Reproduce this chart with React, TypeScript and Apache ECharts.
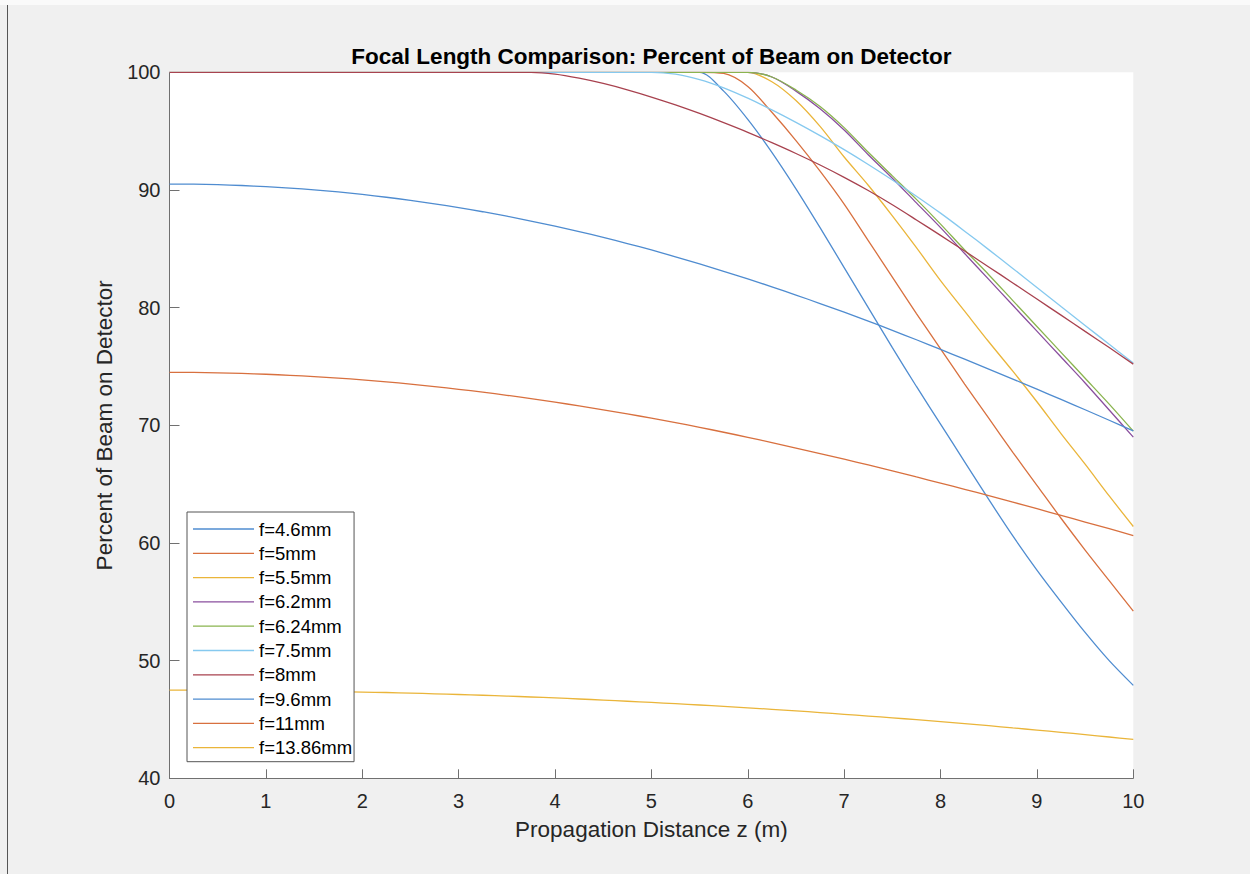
import React, { useEffect, useRef } from "react";
import * as echarts from "echarts";

// Propagation distance z (m), shared sample positions
const Z = [
  0, 0.25, 0.5, 0.75, 1, 1.25, 1.5, 1.75, 2, 2.25, 2.5, 2.75, 3, 3.25, 3.5, 3.75,
  4, 4.25, 4.5, 4.75, 5, 5.25, 5.5, 5.75, 6, 6.25, 6.5, 6.75, 7, 7.25, 7.5, 7.75,
  8, 8.25, 8.5, 8.75, 9, 9.25, 9.5, 9.75, 10,
];

const F46 = [
  100, 100, 100, 100, 100, 100, 100, 100, 100, 100, 100, 100, 100, 100, 100, 100,
  100, 100, 100, 100, 100, 100, 100, 98.4, 96.0, 93.2, 90.1, 86.8, 83.4, 80.0, 76.6, 73.3,
  70.1, 66.9, 63.7, 60.6, 57.7, 55.0, 52.4, 50.0, 47.9,
];
const F5 = [
  100, 100, 100, 100, 100, 100, 100, 100, 100, 100, 100, 100, 100, 100, 100, 100,
  100, 100, 100, 100, 100, 100, 100, 99.9, 98.8, 96.6, 94.2, 91.6, 88.8, 85.7, 82.6, 79.5,
  76.5, 73.5, 70.6, 67.7, 64.9, 62.1, 59.4, 56.8, 54.2,
];
const F55 = [
  100, 100, 100, 100, 100, 100, 100, 100, 100, 100, 100, 100, 100, 100, 100, 100,
  100, 100, 100, 100, 100, 100, 100, 100, 100, 99.2, 97.6, 95.4, 92.8, 90.4, 87.8, 85.1,
  82.3, 79.7, 77.1, 74.6, 72.0, 69.3, 66.7, 64.0, 61.4,
];
const F62 = [
  100, 100, 100, 100, 100, 100, 100, 100, 100, 100, 100, 100, 100, 100, 100, 100,
  100, 100, 100, 100, 100, 100, 100, 100, 100, 99.6, 98.4, 96.9, 95.1, 93.0, 91.0, 88.9,
  86.8, 84.6, 82.4, 80.2, 78.0, 75.8, 73.6, 71.3, 69.0,
];
const F624 = [
  100, 100, 100, 100, 100, 100, 100, 100, 100, 100, 100, 100, 100, 100, 100, 100,
  100, 100, 100, 100, 100, 100, 100, 100, 100, 99.6, 98.5, 97.1, 95.3, 93.2, 91.2, 89.2,
  87.1, 84.9, 82.8, 80.6, 78.4, 76.2, 74.0, 71.8, 69.5,
];
const F75 = [
  100, 100, 100, 100, 100, 100, 100, 100, 100, 100, 100, 100, 100, 100, 100, 100,
  100, 100, 100, 100, 100, 99.84, 99.38, 98.68, 97.80, 96.81, 95.75, 94.62, 93.43, 92.17, 90.85, 89.47,
  88.03, 86.50, 84.93, 83.33, 81.72, 80.10, 78.49, 76.88, 75.30,
];
const F8 = [
  100, 100, 100, 100, 100, 100, 100, 100, 100, 100, 100, 100, 100, 100, 100, 100,
  99.85, 99.50, 99.05, 98.51, 97.90, 97.23, 96.50, 95.72, 94.90, 94.02, 93.10, 92.12, 91.07, 89.95, 88.74, 87.45,
  86.14, 84.81, 83.46, 82.10, 80.73, 79.36, 77.98, 76.61, 75.20,
];
const F96 = [
  90.50, 90.49, 90.45, 90.38, 90.28, 90.16, 90.01, 89.83, 89.62, 89.38, 89.12, 88.82, 88.50, 88.15, 87.77, 87.36,
  86.92, 86.46, 85.97, 85.45, 84.90, 84.32, 83.72, 83.09, 82.44, 81.77, 81.07, 80.35, 79.61, 78.85, 78.07, 77.27,
  76.45, 75.62, 74.78, 73.93, 73.07, 72.20, 71.32, 70.43, 69.53,
];
const F11 = [
  74.50, 74.49, 74.46, 74.41, 74.34, 74.25, 74.14, 74.01, 73.86, 73.69, 73.50, 73.29, 73.06, 72.82, 72.55, 72.27,
  71.97, 71.65, 71.32, 70.97, 70.61, 70.23, 69.83, 69.41, 68.98, 68.53, 68.07, 67.60, 67.12, 66.63, 66.13, 65.61,
  65.09, 64.56, 64.02, 63.47, 62.91, 62.35, 61.78, 61.21, 60.63,
];
const F1386 = [
  47.50, 47.50, 47.49, 47.48, 47.46, 47.43, 47.41, 47.37, 47.33, 47.29, 47.24, 47.18, 47.12, 47.06, 46.99, 46.91,
  46.83, 46.74, 46.65, 46.55, 46.45, 46.34, 46.23, 46.11, 45.99, 45.86, 45.73, 45.59, 45.44, 45.29, 45.14, 44.98,
  44.81, 44.64, 44.47, 44.28, 44.10, 43.91, 43.71, 43.51, 43.30,
];

const SERIES_NAMES = [
  "f=4.6mm", "f=5mm", "f=5.5mm", "f=6.2mm", "f=6.24mm",
  "f=7.5mm", "f=8mm", "f=9.6mm", "f=11mm", "f=13.86mm",
];
const SERIES_VALUES = [F46, F5, F55, F62, F624, F75, F8, F96, F11, F1386];
const COLORS = [
  "#4f8cd0", "#d8703f", "#eab53a", "#8a4f9e", "#8ab44f",
  "#86c9ef", "#a8424f", "#4f8cd0", "#d8703f", "#eab53a",
];

const X_TICKS = [0, 1, 2, 3, 4, 5, 6, 7, 8, 9, 10];
const Y_TICKS = [40, 50, 60, 70, 80, 90, 100];

const FONT = "'Liberation Sans', Arial, Helvetica, sans-serif";
const AXIS_COLOR = "#707070";
const TEXT_COLOR = "#262626";

export default function App() {
  const ref = useRef<HTMLDivElement>(null);

  useEffect(() => {
    document.body.style.margin = "0";
    if (!ref.current) return;
    const chart = echarts.init(ref.current, null, { renderer: "svg" });

    const gridLeft = 169.5;
    const gridRight = 1133.3;
    const gridTop = 72.3;
    const gridBottom = 778.3;

    chart.setOption({
      animation: false,
      backgroundColor: "#f0f0f0",
      textStyle: { fontFamily: FONT },
      title: {
        text: "Focal Length Comparison: Percent of Beam on Detector",
        left: (gridLeft + gridRight) / 2,
        textAlign: "center",
        top: 45,
        padding: 0,
        textStyle: {
          fontFamily: FONT,
          fontSize: 22.5,
          fontWeight: "bold",
          color: "#000",
        },
      },
      graphic: [
        {
          type: "rect",
          shape: { x: 0, y: 0, width: 1250, height: 5 },
          style: { fill: "#fafafa" },
          silent: true,
        },
        {
          type: "line",
          shape: { x1: 7.5, y1: 5, x2: 7.5, y2: 874 },
          style: { stroke: "#555", lineWidth: 1 },
          silent: true,
        },
      ],
      grid: {
        left: gridLeft,
        top: gridTop,
        width: gridRight - gridLeft,
        height: gridBottom - gridTop,
        show: true,
        backgroundColor: "#ffffff",
        borderWidth: 0,
        containLabel: false,
      },
      legend: {
        orient: "vertical",
        left: 187,
        top: 512,
        data: SERIES_NAMES,
        icon: "rect",
        backgroundColor: "#ffffff",
        borderColor: "#555555",
        borderWidth: 1,
        borderRadius: 0,
        padding: [7, 2, 4, 6],
        itemWidth: 61,
        itemHeight: 1.3,
        itemGap: 4.3,
        textStyle: {
          fontFamily: FONT,
          fontSize: 18.5,
          lineHeight: 20,
          height: 20,
          color: "#000",
        },
        selectedMode: false,
      },
      xAxis: {
        type: "value",
        min: X_TICKS[0],
        max: X_TICKS[X_TICKS.length - 1],
        interval: 1,
        name: "Propagation Distance z (m)",
        nameLocation: "middle",
        nameGap: 40,
        nameTextStyle: { fontFamily: FONT, fontSize: 22.5, color: TEXT_COLOR },
        axisLine: { show: true, lineStyle: { color: AXIS_COLOR, width: 1 } },
        axisTick: { show: true, inside: true, length: 9, lineStyle: { color: AXIS_COLOR } },
        axisLabel: { fontFamily: FONT, fontSize: 20, color: TEXT_COLOR, margin: 13 },
        splitLine: { show: false },
      },
      yAxis: {
        type: "value",
        min: Y_TICKS[0],
        max: Y_TICKS[Y_TICKS.length - 1],
        interval: 10,
        name: "Percent of Beam on Detector",
        nameLocation: "middle",
        nameGap: 50,
        nameTextStyle: { fontFamily: FONT, fontSize: 22.5, color: TEXT_COLOR },
        axisLine: { show: true, lineStyle: { color: AXIS_COLOR, width: 1 } },
        axisTick: { show: true, inside: true, length: 10, lineStyle: { color: AXIS_COLOR } },
        axisLabel: { fontFamily: FONT, fontSize: 20, color: TEXT_COLOR, margin: 9 },
        splitLine: { show: false },
      },
      series: SERIES_NAMES.map((name, k) => ({
        name,
        type: "line",
        data: Z.map((z, i) => [z, SERIES_VALUES[k][i]]),
        symbol: "none",
        smooth: 0.3,
        lineStyle: { color: COLORS[k], width: 1.3 },
        itemStyle: { color: COLORS[k] },
        emphasis: { disabled: true },
      })),
    });

    return () => chart.dispose();
  }, []);

  return <div ref={ref} style={{ width: 1250, height: 874 }} />;
}
